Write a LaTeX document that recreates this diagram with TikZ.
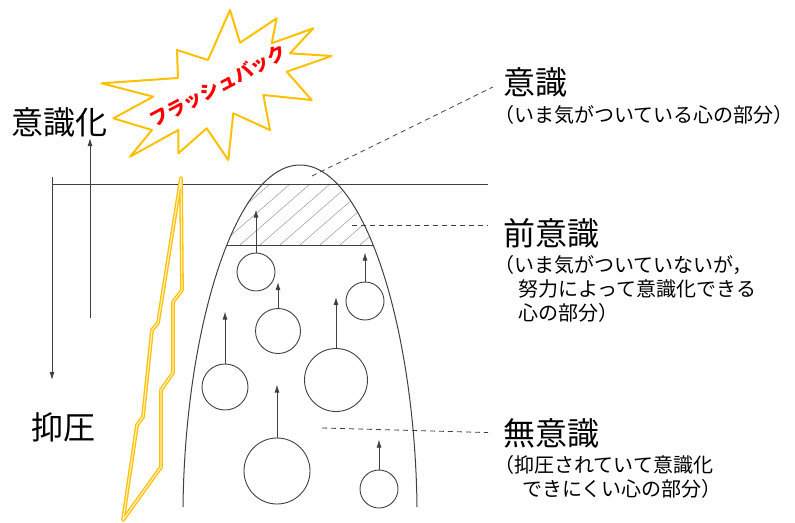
\documentclass[tikz,border=0pt]{standalone}
\usepackage{fontspec}
\usetikzlibrary{arrows.meta}
\newfontfamily\jp{Noto Sans CJK JP}

\definecolor{linea}{HTML}{404040}
\definecolor{oro}{HTML}{FFC000}

\tikzset{
  punta/.style={-{Latex[length=8pt,width=5pt]}},
  burbuja/.style={circle, draw=linea, line width=0.9pt, inner sep=0pt},
  sube/.style={punta, draw=linea, line width=0.9pt},
  guia/.style={draw=linea, line width=0.8pt, dash pattern=on 5pt off 4pt},
  titulo/.style={anchor=west, inner sep=0pt, font=\jp\fontsize{32}{32}\selectfont},
  nota/.style={anchor=north west, inner sep=0pt, align=left, font=\jp\fontsize{20}{24}\selectfont},
}

\begin{document}
\begin{tikzpicture}[x=1pt,y=-1pt,line join=round]
        \useasboundingbox (0,0) rectangle (795,522);

        % Zona rayada y base del preconsciente
        \begin{scope}
            \clip (183,507) .. controls (185,330) and (235,165) .. (300,165) .. controls (365,165) and (415,330) .. (417,507) -- cycle;
            \begin{scope}
                \clip (150,184) rectangle (450,245);
                \foreach \x in {100,120,...,440}
                    \draw[gray!80, line width=0.5pt] (\x,245) -- ++(70,-61);
            \end{scope}
            \draw[linea, line width=0.9pt] (150,245) -- (450,245);
        \end{scope}

        % Cúpula
        \draw[linea, line width=1pt] (183,507) .. controls (185,330) and (235,165) .. (300,165) .. controls (365,165) and (415,330) .. (417,507);

        % Superficie y ejes de la izquierda
        \coordinate (ejeSup) at (52,177);
        \coordinate (ejeInf) at (52,380);
        \coordinate (subeIni) at (90,318);
        \coordinate (subeFin) at (90,138);
        \draw[linea, line width=0.9pt] (52,184) -- (488,184);
        \draw[linea, line width=0.9pt, punta] (ejeSup) -- (ejeInf);
        \draw[linea, line width=0.9pt, punta] (subeIni) -- (subeFin);

        % Burbujas que suben
        \foreach \n/\x/\y/\r/\h in {1/256/272/19/43, 2/278/331/22.5/26, 3/225/387/23/52,
                                    4/336/380/31.5/51, 5/365/301/19/29, 6/277/471/33/53, 7/379/489/19/30} {
            \node[burbuja, minimum size=2*\r] (c\n) at (\x,\y) {};
            \draw[sube] (c\n.north) -- ++(0,-\h);
        }

        % Rayo
        \draw[oro, line width=1.3pt, double=oro!25, double distance=1.2pt]
            (181,178) -- (182,290) -- (173,302) -- (173,373) -- (161,390) -- (161,467) -- (123,520)
            -- (137,425) -- (143,417) -- (152,330) -- (158,323) -- cycle;

        % Estallido
        \draw[oro, line width=2pt]
            (101.7,83.3) -- (178,78) -- (177,50) -- (208,60) -- (230,10) -- (240,42.7) -- (276.7,18.3)
            -- (271.7,43.3) -- (313.3,28.3) -- (290,53.3) -- (331.7,56) -- (286.7,71.7) -- (311.7,100)
            -- (263.3,95) -- (270,130) -- (233.3,113.3) -- (228.3,160) -- (206.7,128.3) -- (178.3,153.3)
            -- (178.3,130) -- (130,156.7) -- (152,130) -- (113.3,118.3) -- (153.3,96.7) -- cycle;
        \node[rotate=28, text=red, inner sep=0pt, font=\jp\bfseries\fontsize{19}{19}\selectfont] (flash) at (218,86) {フラッシュバック};

        % Textos
        \node[titulo] (ishikika) at (11,122) {意識化};
        \node[titulo] (yokuatsu) at (31,427) {抑圧};
        \node[titulo] (ishiki) at (503,82) {意識};
        \node[nota, anchor=west] (ishikiNota) at (494,115) {（いま気がついている心の部分）};
        \node[titulo] (zenishiki) at (503,233) {前意識};
        \node[nota] (zenishikiNota) at (494,255) {（いま気がついていないが，\\\hspace*{1.2em}努力によって意識化できる\\\hspace*{1.2em}心の部分）};
        \node[titulo] (muishiki) at (503,433) {無意識};
        \node[nota] (muishikiNota) at (494,455) {（抑圧されていて意識化\\\hspace*{1.4em}できにくい心の部分）};

        % Líneas guía
        \coordinate (pIshiki) at (312,176);
        \coordinate (pZen) at (352,225);
        \coordinate (pMu) at (322,428);
        \draw[guia, shorten >=11pt] (pIshiki) -- (ishiki.west);
        \draw[guia] (pZen) -- ++(136,0);
        \draw[guia, shorten >=15pt] (pMu) -- (muishiki.west);
\end{tikzpicture}
\end{document}
